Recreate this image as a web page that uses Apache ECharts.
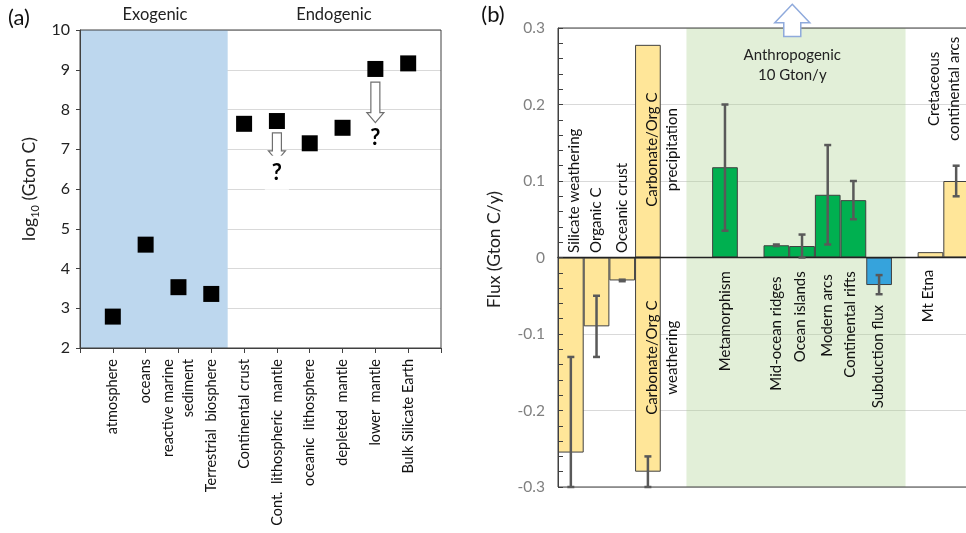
<!DOCTYPE html>
<html><head><meta charset="utf-8">
<script src="https://cdn.jsdelivr.net/npm/echarts@6/dist/echarts.min.js"></script>
<style>html,body{margin:0;padding:0;background:#fff}#c{width:966px;height:533px}</style>
</head><body><div id="c"></div>
<script>
// ---------- Panel (a): carbon reservoirs ----------
const reservoirNames = ['atmosphere', 'oceans', 'reactive marine\nsediment', 'Terrestrial  biosphere',
  'Continental crust', 'Cont.  lithospheric  mantle', 'oceanic  lithosphere', 'depleted  mantle',
  'lower  mantle', 'Bulk Silicate Earth'];
const reservoirLog10C = [2.79, 4.60, 3.53, 3.36, 7.64, 7.71, 7.15, 7.54, 9.02, 9.16];
const aYMin = 2, aYMax = 10, aYStep = 1;
const exogenicSpan = [[0, 4.5]];
// [x position, arrow top, arrow tip, "?" position] (log10 Gton C)
const uncertainArrows = [[6, 7.41, 6.71, 6.41], [9, 8.69, 7.67, 7.28]];

// ---------- Panel (b): carbon fluxes ----------
const fluxCategories = ['Silicate weathering', 'Organic C', 'Oceanic crust', 'Carbonate/Org C', '', ' ',
  'Metamorphism', '  ', 'Mid-ocean ridges', 'Ocean islands', 'Modern arcs', 'Continental rifts',
  'Subduction flux', '   ', 'Mt Etna', 'Cretaceous continental arcs'];
const yellowFlux = [-0.255, -0.09, -0.03, -0.28, null, null, null, null, null, null, null, null, null, null, 0.007, 0.10];
const carbPrecipitation = [null, null, null, 0.278, null, null, null, null, null, null, null, null, null, null, null, null];
const degassingFlux = [null, null, null, null, null, null, 0.118, null, 0.016, 0.015, 0.082, 0.075, null, null, null, null];
const subductionFlux = [null, null, null, null, null, null, null, null, null, null, null, null, -0.036, null, null, null];
// [category index, low, high]
const fluxErrors = [[0, -0.3, -0.13], [1, -0.13, -0.05], [2, -0.031, -0.029], [3, -0.3, -0.26],
  [6, 0.035, 0.2], [8, 0.015, 0.017], [9, 0.0, 0.03], [10, 0.017, 0.147], [11, 0.05, 0.1],
  [12, -0.048, -0.023], [15, 0.08, 0.12]];
const bYMin = -0.3, bYMax = 0.3, bYStep = 0.1;
const anthropogenicSpan = [[4.5, 13.03]];
// [x, tip, head base, shaft bottom]
const anthropogenicArrow = [[8.62, 0.331, 0.307, 0.289]];
const fluxLabelText = ['Silicate weathering', 'Organic C', 'Oceanic crust', 'Carbonate/Org C\nprecipitation',
  'Carbonate/Org C\nweathering', 'Metamorphism', 'Mid-ocean ridges', 'Ocean islands', 'Modern arcs',
  'Continental rifts', 'Subduction flux', 'Mt Etna', 'Cretaceous\ncontinental arcs', 'Anthropogenic\n10 Gton/y'];
const fluxLabelX = [0.12, 1, 2, 3.55, 3.57, 6, 8, 8.93, 9.97, 10.88, 11.97, 13.91, 14.54, 8.62];
const fluxLabelY = [0.006, 0.006, 0.006, 0.141, -0.131, -0.018, -0.025, -0.018, -0.022, -0.018, -0.062, -0.016, 0.2205, 0.252];
const fluxLabelAnchor = ['start', 'start', 'start', 'center', 'center', 'end', 'end', 'end', 'end', 'end', 'end', 'end', 'center', 'flat'];

const FONT = 'Lato';
const AXIS = '#404040';
const GRIDC = '#d9d9d9';

const chart = echarts.init(document.getElementById('c'));

function regionRender(color) {
  return function (params, api) {
    const cs = params.coordSys;
    const p0 = api.coord([api.value(0), 0]);
    const p1 = api.coord([api.value(1), 0]);
    return { type: 'rect', shape: { x: p0[0], y: cs.y, width: p1[0] - p0[0], height: cs.height },
      style: { fill: color } };
  };
}

const option = {
  animation: false,
  textStyle: { fontFamily: FONT },
  grid: [
    { left: 80, top: 30, width: 361, height: 318, show: true, borderColor: AXIS, borderWidth: 1,
      backgroundColor: 'transparent', containLabel: false, outerBoundsMode: 'none' },
    { left: 558, top: 28, width: 411, height: 459, show: true, borderColor: AXIS, borderWidth: 1,
      backgroundColor: 'transparent', containLabel: false, outerBoundsMode: 'none' }
  ],
  xAxis: [
    { gridIndex: 0, type: 'value', min: 0, max: reservoirNames.length + 1, interval: 1,
      splitLine: { show: false },
      axisLine: { show: true, lineStyle: { color: AXIS, width: 1 } },
      axisTick: { show: true, length: 5, lineStyle: { color: AXIS } },
      axisLabel: { rotate: 90, margin: 11, fontSize: 14.5, color: '#111', fontFamily: FONT, lineHeight: 20,
        formatter: v => reservoirNames[Math.round(v) - 1] || '' } },
    { gridIndex: 1, type: 'category', data: fluxCategories, boundaryGap: true, z: 5,
      axisLine: { show: true, onZero: true, lineStyle: { color: '#222', width: 1.3 } },
      axisTick: { show: false }, axisLabel: { show: false }, splitLine: { show: false } },
    { gridIndex: 1, type: 'value', min: -0.5, max: fluxCategories.length - 0.5, show: false }
  ],
  yAxis: [
    { gridIndex: 0, type: 'value', min: aYMin, max: aYMax, interval: aYStep, z: 3,
      splitLine: { show: false },
      axisLine: { show: true, lineStyle: { color: AXIS } },
      axisTick: { show: true, length: 4, lineStyle: { color: AXIS } },
      axisLabel: { fontSize: 16, color: '#222', margin: 10, fontFamily: FONT },
      name: 'log{sub|10} (Gton C)', nameLocation: 'middle', nameGap: 42, nameRotate: 90,
      nameTextStyle: { fontSize: 17.5, color: '#222', fontFamily: FONT,
        rich: { sub: { fontSize: 11, verticalAlign: 'bottom', fontFamily: FONT, color: '#222', padding: [0, 0, -3, 0] } } } },
    { gridIndex: 0, type: 'value', min: aYMin, max: aYMax, interval: aYStep, z: -2,
      axisLine: { show: false }, axisTick: { show: false }, axisLabel: { show: false },
      splitLine: { show: true, lineStyle: { color: GRIDC, width: 1 } } },
    { gridIndex: 1, type: 'value', min: bYMin, max: bYMax, interval: bYStep, z: 5,
      splitLine: { show: false },
      axisLine: { show: true, onZero: false, lineStyle: { color: AXIS } },
      axisTick: { show: true, inside: true, length: 5, lineStyle: { color: AXIS } },
      minorTick: { show: true, splitNumber: 5, length: 5, lineStyle: { color: AXIS } },
      axisLabel: { fontSize: 15.5, color: '#808080', margin: 13, fontFamily: FONT },
      name: 'Flux (Gton C/y)', nameLocation: 'middle', nameGap: 55, nameRotate: 90,
      nameTextStyle: { fontSize: 17.5, color: '#222', fontFamily: FONT, padding: [0, 0, 0, 16] } },
    { gridIndex: 1, type: 'value', min: bYMin, max: bYMax, interval: bYStep, z: -2,
      axisLine: { show: false, onZero: false }, axisLabel: { show: false },
      axisTick: { show: true, inside: false, length: 5, lineStyle: { color: AXIS } },
      splitLine: { show: true, lineStyle: { color: GRIDC, width: 1 } } }
  ],
  graphic: [
    { type: 'text', x: 19, y: 18, style: { text: '(a)', fontSize: 22, fontFamily: FONT, fill: '#111', align: 'center', verticalAlign: 'middle' } },
    { type: 'text', x: 493, y: 15, style: { text: '(b)', fontSize: 22, fontFamily: FONT, fill: '#111', align: 'center', verticalAlign: 'middle' } },
    { type: 'text', x: 155, y: 15, style: { text: 'Exogenic', fontSize: 16.5, fontFamily: FONT, fill: '#222', align: 'center', verticalAlign: 'middle' } },
    { type: 'text', x: 334, y: 15, style: { text: 'Endogenic', fontSize: 16.5, fontFamily: FONT, fill: '#222', align: 'center', verticalAlign: 'middle' } }
  ],
  series: [
    // ----- panel (a)
    { type: 'custom', name: 'Exogenic', xAxisIndex: 0, yAxisIndex: 0, z: -1, silent: true,
      data: exogenicSpan, renderItem: regionRender('#bdd7ee') },
    { type: 'scatter', name: 'Reservoirs', xAxisIndex: 0, yAxisIndex: 0, symbol: 'rect', symbolSize: 16,
      itemStyle: { color: '#000', opacity: 1 }, z: 4,
      data: reservoirLog10C.map((v, i) => [i + 1, v]) },
    { type: 'custom', name: 'Uncertain', xAxisIndex: 0, yAxisIndex: 0, z: 4, silent: true,
      data: uncertainArrows,
      renderItem(params, api) {
        const pTop = api.coord([api.value(0), api.value(1)]);
        const pTip = api.coord([api.value(0), api.value(2)]);
        const pQ = api.coord([api.value(0), api.value(3)]);
        const cx = pTop[0], s = 4.5, h = 8.5, L = 10;
        const pts = [[cx - s, pTop[1]], [cx + s, pTop[1]], [cx + s, pTip[1] - L], [cx + h, pTip[1] - L],
          [cx, pTip[1]], [cx - h, pTip[1] - L], [cx - s, pTip[1] - L]];
        const q = { type: 'text', x: cx, y: pQ[1], style: { text: '?', fontSize: 22, fontWeight: 'bold',
          fontFamily: FONT, fill: '#000', align: 'center', verticalAlign: 'middle' } };
        if (params.dataIndex === 0) {
          q.style.backgroundColor = '#fff';
          q.style.padding = [3, 7, 9, 7];
        }
        return { type: 'group', children: [
          { type: 'polygon', shape: { points: pts }, style: { fill: '#fff', stroke: '#6f6f6f', lineWidth: 1.2 } },
          q ] };
      } },
    // ----- panel (b)
    { type: 'custom', name: 'Anthropogenic', xAxisIndex: 2, yAxisIndex: 2, z: -1, silent: true,
      data: anthropogenicSpan, renderItem: regionRender('rgba(169,208,142,0.34)') },
    { type: 'bar', name: 'Surface flux', xAxisIndex: 1, yAxisIndex: 2, stack: 'flux', barCategoryGap: '0%',
      itemStyle: { color: '#ffe699', borderColor: AXIS, borderWidth: 1 }, data: yellowFlux },
    { type: 'bar', name: 'Carbonate precipitation', xAxisIndex: 1, yAxisIndex: 2, stack: 'flux', barCategoryGap: '0%',
      itemStyle: { color: '#ffe699', borderColor: AXIS, borderWidth: 1 }, data: carbPrecipitation },
    { type: 'bar', name: 'Degassing', xAxisIndex: 1, yAxisIndex: 2, stack: 'flux', barCategoryGap: '0%',
      itemStyle: { color: '#00b050', borderColor: AXIS, borderWidth: 1 }, data: degassingFlux },
    { type: 'bar', name: 'Subduction', xAxisIndex: 1, yAxisIndex: 2, stack: 'flux', barCategoryGap: '0%',
      itemStyle: { color: '#36a3dc', borderColor: AXIS, borderWidth: 1 }, data: subductionFlux },
    { type: 'custom', name: 'Errors', xAxisIndex: 1, yAxisIndex: 2, z: 6, silent: true, data: fluxErrors,
      renderItem(params, api) {
        const pLo = api.coord([api.value(0), api.value(1)]);
        const pHi = api.coord([api.value(0), api.value(2)]);
        const w = 3.5, st = { stroke: '#595959', lineWidth: 2.5 };
        return { type: 'group', children: [
          { type: 'line', shape: { x1: pLo[0], y1: pLo[1], x2: pHi[0], y2: pHi[1] }, style: st },
          { type: 'line', shape: { x1: pLo[0] - w, y1: pLo[1], x2: pLo[0] + w, y2: pLo[1] }, style: st },
          { type: 'line', shape: { x1: pHi[0] - w, y1: pHi[1], x2: pHi[0] + w, y2: pHi[1] }, style: st } ] };
      } },
    { type: 'custom', name: 'Labels', xAxisIndex: 2, yAxisIndex: 2, z: 7, silent: true,
      data: fluxLabelX.map((x, i) => [x, fluxLabelY[i]]),
      renderItem(params, api) {
        const i = params.dataIndex;
        const p = api.coord([api.value(0), api.value(1)]);
        const anchor = fluxLabelAnchor[i];
        if (anchor === 'flat') {
          return { type: 'text', x: p[0], y: p[1], style: { text: fluxLabelText[i], fontSize: 15,
            fontFamily: FONT, fill: '#222', align: 'center', verticalAlign: 'middle', lineHeight: 20 } };
        }
        const align = anchor === 'start' ? 'left' : anchor === 'end' ? 'right' : 'center';
        return { type: 'text', x: p[0], y: p[1], rotation: Math.PI / 2,
          style: { text: fluxLabelText[i], fontSize: 15, fontFamily: FONT, fill: '#111',
            align: align, verticalAlign: 'middle', lineHeight: 20 } };
      } },
    { type: 'custom', name: 'Anthropogenic arrow', xAxisIndex: 2, yAxisIndex: 2, z: 7, silent: true,
      data: anthropogenicArrow,
      renderItem(params, api) {
        const pTip = api.coord([api.value(0), api.value(1)]);
        const pBase = api.coord([api.value(0), api.value(2)]);
        const pBot = api.coord([api.value(0), api.value(3)]);
        const cx = pTip[0], s = 8.5, h = 17.5;
        const pts = [[cx, pTip[1]], [cx + h, pBase[1]], [cx + s, pBase[1]], [cx + s, pBot[1]],
          [cx - s, pBot[1]], [cx - s, pBase[1]], [cx - h, pBase[1]]];
        return { type: 'polygon', shape: { points: pts }, style: { fill: '#fff', stroke: '#8faadc', lineWidth: 1.5 } };
      } }
  ]
};
chart.setOption(option);
</script>
</body></html>
